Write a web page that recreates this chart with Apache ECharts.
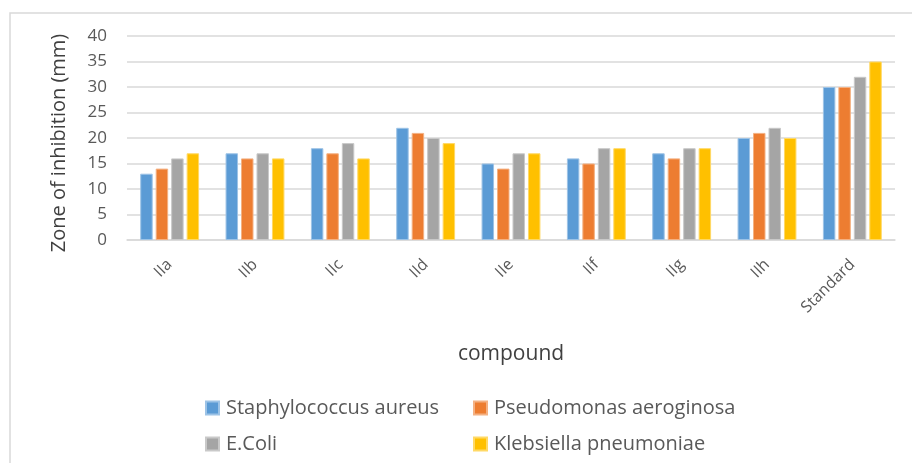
<!DOCTYPE html>
<html><head><meta charset="utf-8">
<script src="https://cdn.jsdelivr.net/npm/echarts@6/dist/echarts.min.js"></script>
<style>html,body{margin:0;padding:0;background:#fff}#c{width:912px;height:463px}</style>
</head><body><div id="c"></div>
<script>
const categories = ['IIa','IIb','IIc','IId','IIe','IIf','IIg','IIh','Standard'];
const seriesNames = ['Staphylococcus aureus','Pseudomonas aeroginosa','E.Coli','Klebsiella pneumoniae'];
const staph = [13,17,18,22,15,16,17,20,30];
const pseudo = [14,16,17,21,14,15,16,21,30];
const ecoli = [16,17,19,20,17,18,18,22,32];
const kleb = [17,16,16,19,17,18,18,20,35];
const yTicks = [0,5,10,15,20,25,30,35,40];
const colors = ['#5B9BD5','#ED7D31','#A5A5A5','#FFC000'];
const borders = ['#9dc3e6','#f4b183','#c9c9c9','#ffd966'];
const values = [staph,pseudo,ecoli,kleb];
const font = 'Open Sans';
const chart = echarts.init(document.getElementById('c'));
const legendPos = [[200,393],[468,393],[200,429],[468,429]];
chart.setOption({
  animation:false,
  textStyle:{fontFamily:font},
  graphic:[{type:'rect',shape:{x:10,y:13,width:920,height:470},style:{fill:'none',stroke:'#d9d9d9',lineWidth:1.5},silent:true}],
  legend: seriesNames.map((n,i)=>({data:[n],left:legendPos[i][0],top:legendPos[i][1],icon:'rect',itemWidth:13,itemHeight:13,
    textStyle:{fontFamily:font,fontSize:20,color:'#595959',padding:[0,0,0,2]}})),
  grid:{left:127,right:17,top:36,bottom:223},
  xAxis:{type:'category',data:categories,
    name:'compound',nameLocation:'middle',nameGap:104,nameTextStyle:{fontSize:21,color:'#404040',fontFamily:font},
    axisTick:{show:false},axisLine:{lineStyle:{color:'#d9d9d9',width:1.5}},
    axisLabel:{rotate:45,fontSize:16,color:'#595959',margin:22,interval:0}},
  yAxis:{type:'value',min:yTicks[0],max:yTicks[yTicks.length-1],interval:5,
    name:'Zone of inhibition (mm)',nameLocation:'middle',nameGap:58,nameRotate:90,
    nameTextStyle:{fontSize:20,color:'#404040',fontFamily:font,padding:[0,10,0,0]},
    axisLine:{show:false},axisTick:{show:false},
    axisLabel:{fontSize:17,color:'#595959',margin:20},
    splitLine:{lineStyle:{color:'#d9d9d9',width:1.5}}},
  series: seriesNames.map((n,i)=>({name:n,type:'bar',data:values[i],
    barGap:'24%',barCategoryGap:'31%',
    itemStyle:{color:colors[i],borderColor:borders[i],borderWidth:1}}))
});
</script></body></html>
